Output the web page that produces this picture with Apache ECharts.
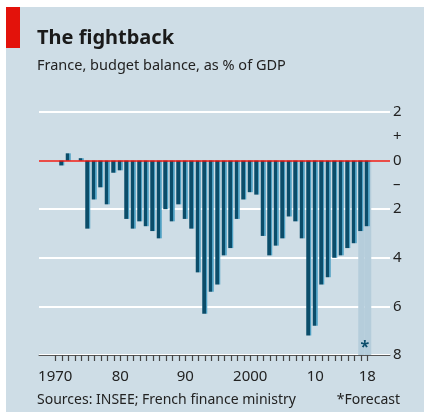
<!DOCTYPE html>
<html>
<head>
<meta charset="utf-8">
<script src="https://cdn.jsdelivr.net/npm/echarts@6/dist/echarts.min.js"></script>
<style>
  html, body { margin: 0; padding: 0; background: #fff; }
  #chart { width: 426px; height: 412px; }
</style>
</head>
<body>
<div id="chart"></div>
<script>
// years shown, and budget balance (% of GDP)
const years = []
for (let y = 1970; y <= 2018; y++) years.push(y)
const balance = [
  0, -0.2, 0.3, 0, 0.1, -2.8, -1.6, -1.1, -1.8, -0.5,
  -0.4, -2.4, -2.8, -2.5, -2.7, -2.9, -3.2, -2.0, -2.5, -1.8,
  -2.4, -2.8, -4.6, -6.3, -5.4, -5.1, -3.9, -3.6, -2.4, -1.6,
  -1.3, -1.4, -3.1, -3.9, -3.5, -3.2, -2.3, -2.5, -3.2, -7.2,
  -6.8, -5.1, -4.8, -4.0, -3.9, -3.6, -3.4, -2.9, -2.7
]
const forecastYears = [2017, 2018]
const labelYears = [1970, 1980, 1990, 2000, 2010, 2018]
const yearLabels = { 1970: '1970', 1980: '80', 1990: '90', 2000: '2000', 2010: '10', 2018: '18' }

const barData = years.map((y, i) => [y, balance[i]])
// shaded band behind the forecast years, from 0 down to the axis bottom
const bandData = forecastYears.map((y) => [y, -8])

const font = '"Noto Sans", sans-serif'
const barColor = new echarts.graphic.LinearGradient(0, 0, 1, 0, [
  { offset: 0, color: '#0b4d6a' },
  { offset: 0.74, color: '#0b4d6a' },
  { offset: 0.74, color: '#4d9fc2' },
  { offset: 1, color: '#4d9fc2' }
])

const chart = echarts.init(document.getElementById('chart'))
chart.setOption({
  animation: false,
  textStyle: { fontFamily: font },
  graphic: [
    { type: 'rect', shape: { x: 6, y: 7, width: 418, height: 405 }, style: { fill: '#cedde6' }, z: -10 },
    { type: 'rect', shape: { x: 6, y: 7, width: 14, height: 41 }, style: { fill: '#e3120b' } },
    { type: 'text', left: 37, top: 28, style: { text: 'The fightback', font: 'bold 20px "Noto Sans"', fill: '#1a1a1a' } },
    { type: 'text', left: 37, top: 58, style: { text: 'France, budget balance, as % of GDP', font: '14.5px "Noto Sans"', fill: '#222' } },
    { type: 'text', left: 37, top: 393, style: { text: 'Sources: INSEE; French finance ministry', font: '14px "Noto Sans"', fill: '#222' } },
    { type: 'text', right: 26, top: 393, style: { text: '*Forecast', font: '14px "Noto Sans"', fill: '#222' } }
  ],
  grid: { left: 39, top: 112, width: 351, height: 243, containLabel: false },
  xAxis: {
    type: 'value',
    min: 1967.5,
    max: 2021.5,
    axisLine: { show: true, onZero: false, lineStyle: { color: '#555', width: 1 } },
    axisTick: {
      show: true,
      length: 6,
      customValues: years,
      lineStyle: { color: '#444', width: 1.2 }
    },
    axisLabel: {
      margin: 14,
      fontSize: 15,
      color: '#222',
      customValues: labelYears,
      formatter: (v) => yearLabels[v] || ''
    },
    splitLine: { show: false }
  },
  yAxis: [
    {
      type: 'value',
      position: 'right',
      min: -8,
      max: 2,
      interval: 2,
      axisLine: { show: false },
      axisTick: { show: false },
      axisLabel: { margin: 3, fontSize: 15, color: '#222', formatter: (v) => String(Math.abs(v)) },
      splitLine: { lineStyle: { color: '#ffffff', width: 2 } }
    },
    {
      type: 'value',
      position: 'right',
      min: -8,
      max: 2,
      interval: 1,
      axisLine: { show: false },
      axisTick: { show: false },
      axisLabel: {
        margin: 3,
        fontSize: 15,
        color: '#222',
        formatter: (v) => (v === 1 ? '+' : v === -1 ? '–' : '')
      },
      splitLine: { show: false }
    }
  ],
  series: [
    {
      type: 'bar',
      data: bandData,
      barWidth: 6.5,
      barGap: '-100%',
      silent: true,
      z: 1,
      itemStyle: { color: '#b5cddb' },
      label: {
        show: true,
        position: 'insideBottom',
        distance: 0,
        offset: [3.25, 0],
        color: '#0b4d6a',
        fontSize: 16,
        fontWeight: 'bold',
        formatter: (p) => (p.value[0] === forecastYears[0] ? '*' : '')
      }
    },
    {
      type: 'bar',
      data: barData,
      barWidth: 5,
      barGap: '-100%',
      z: 2,
      itemStyle: { color: barColor },
      markLine: {
        silent: true,
        symbol: 'none',
        label: { show: false },
        lineStyle: { color: '#e3120b', width: 1.5, type: 'solid' },
        data: [{ yAxis: 0 }]
      }
    }
  ]
})
</script>
</body>
</html>
